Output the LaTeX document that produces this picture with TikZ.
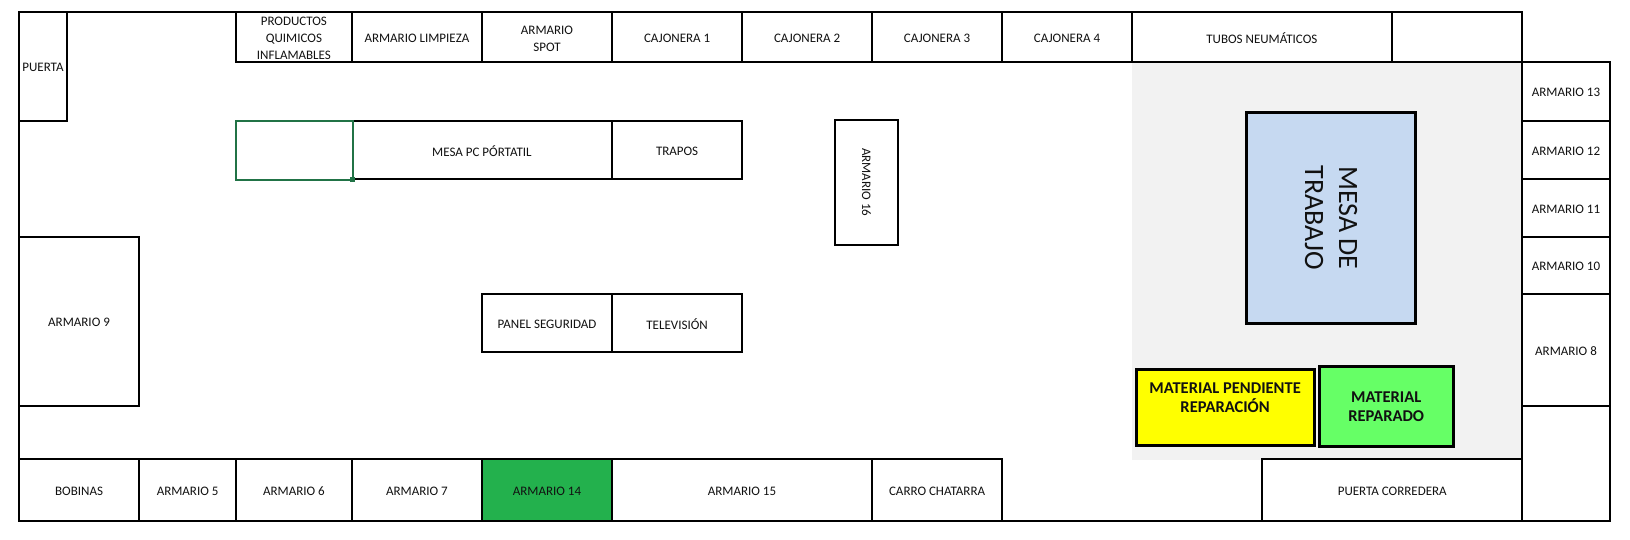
\documentclass[tikz,border=0pt]{standalone}
\usepackage{fontspec}
\setmainfont{Carlito}
\definecolor{zonegray}{HTML}{F2F2F2}
\definecolor{tablecol}{HTML}{C6D9F1}
\definecolor{a14}{HTML}{23B14D}
\definecolor{repaired}{HTML}{66FF66}
\definecolor{pending}{HTML}{FFFF00}
\definecolor{selgreen}{HTML}{217346}
\definecolor{ink}{HTML}{111111}
\tikzset{
  x=1pt,y=-1pt,
  base/.style={draw=black,line width=2pt,inner sep=0pt,outer sep=0pt,align=center,text=ink,
    font=\fontsize{13}{17}\selectfont},
  plain/.style={base,fill=white},
  heavy/.style={base,line width=3pt,font=\fontsize{16.5}{19}\selectfont\bfseries},
}
\def\tshift{-1.3pt}
% name, x1, y1, x2, y2, style, text
\newcommand\roomcell[7]{%
  \pgfmathsetmacro\cx{(#2+#4)/2}\pgfmathsetmacro\cy{(#3+#5)/2}%
  \pgfmathsetmacro\cw{#4-#2}\pgfmathsetmacro\ch{#5-#3}%
  \node[#6,minimum width=\cw pt,minimum height=\ch pt] (#1) at (\cx,\cy) {};%
  \node[#6,draw=none,fill=none,yshift=\tshift] (#1t) at (#1.center) {#7};%
}
\begin{document}
\begin{tikzpicture}
\useasboundingbox (0,0) rectangle (1630,540);
\fill[white] (0,0) rectangle (1630,540);
\fill[zonegray] (1132,62.3) rectangle (1522.2,459.7);
% top row
\roomcell{prod}{236}{12}{351.8}{62.3}{plain}{PRODUCTOS\\QUIMICOS\\INFLAMABLES}
\roomcell{limp}{351.8}{12}{482}{62.3}{plain}{ARMARIO LIMPIEZA}
\roomcell{spot}{482}{12}{612}{62.3}{plain}{ARMARIO\\SPOT}
\roomcell{caj1}{612}{12}{742.2}{62.3}{plain}{CAJONERA 1}
\roomcell{caj2}{742.2}{12}{872}{62.3}{plain}{CAJONERA 2}
\roomcell{caj3}{872}{12}{1002.1}{62.3}{plain}{CAJONERA 3}
\roomcell{caj4}{1002.1}{12}{1132}{62.3}{plain}{CAJONERA 4}
\roomcell{tubos}{1132}{12}{1391.7}{62.3}{plain}{TUBOS NEUMÁTICOS}
\roomcell{blank1}{1391.7}{12}{1522.2}{62.3}{plain}{}
% left
\roomcell{puerta}{18.9}{12}{67}{120.7}{plain}{PUERTA}
\roomcell{arm9}{18.9}{236.7}{139.2}{405.7}{plain}{ARMARIO 9}
% middle
\roomcell{mesapc}{351.8}{120.7}{612}{179}{plain}{MESA PC PÓRTATIL}
\roomcell{trapos}{612}{120.7}{742.2}{179}{plain}{TRAPOS}
\roomcell{panel}{482}{294}{612}{351.7}{plain}{PANEL SEGURIDAD}
\roomcell{tele}{612}{294}{742.2}{351.7}{plain}{TELEVISIÓN}
\node[plain,rotate=-90,minimum width=125.3pt,minimum height=63.2pt] (arm16) at (866.4,182.3) {ARMARIO 16};
% selected cell
\roomcell{sel}{236}{120.7}{352.8}{180}{base,draw=selgreen,fill=white}{}
\fill[selgreen] (350.2,177.5) rectangle (355.2,182.5);
% right column
\roomcell{arm13}{1522.2}{62.3}{1609.8}{120.7}{plain}{ARMARIO 13}
\roomcell{arm12}{1522.2}{120.7}{1609.8}{179}{plain}{ARMARIO 12}
\roomcell{arm11}{1522.2}{179}{1609.8}{237}{plain}{ARMARIO 11}
\roomcell{arm10}{1522.2}{237}{1609.8}{293.7}{plain}{ARMARIO 10}
\roomcell{arm8}{1522.2}{293.7}{1609.8}{405.7}{plain}{ARMARIO 8}
\roomcell{blank2}{1522.2}{405.7}{1609.8}{520.7}{plain}{}
% bottom row
\roomcell{bob}{18.9}{458.7}{139.2}{520.7}{plain}{BOBINAS}
\roomcell{arm5}{139.2}{458.7}{236}{520.7}{plain}{ARMARIO 5}
\roomcell{arm6}{236}{458.7}{351.8}{520.7}{plain}{ARMARIO 6}
\roomcell{arm7}{351.8}{458.7}{482}{520.7}{plain}{ARMARIO 7}
\roomcell{arm14}{482}{458.7}{612}{520.7}{base,fill=a14}{ARMARIO 14}
\roomcell{arm15}{612}{458.7}{872}{520.7}{plain}{ARMARIO 15}
\roomcell{carro}{872}{458.7}{1002.1}{520.7}{plain}{CARRO CHATARRA}
\roomcell{corr}{1262.3}{458.7}{1522.2}{520.7}{plain}{PUERTA CORREDERA}
% outer walls
\draw[line width=2pt,line join=miter] (18.9,12) -- (1522.2,12) -- (1522.2,62.3) -- (1609.8,62.3)
  -- (1609.8,520.7) -- (18.9,520.7) -- cycle;
% work zone
\node[heavy,fill=tablecol,rotate=-90,minimum width=211pt,minimum height=169.4pt,
  font=\fontsize{28}{34}\selectfont] (mesa) at (1331.1,217.8) {MESA DE\\TRABAJO};
\def\tshift{0pt}
\roomcell{pend}{1136.2}{369}{1314}{445.7}{heavy,fill=pending}{MATERIAL PENDIENTE\\REPARACIÓN\\\mbox{}}
\roomcell{repa}{1319.4}{366}{1453}{446.7}{heavy,fill=repaired}{MATERIAL\\REPARADO}
\end{tikzpicture}
\end{document}
